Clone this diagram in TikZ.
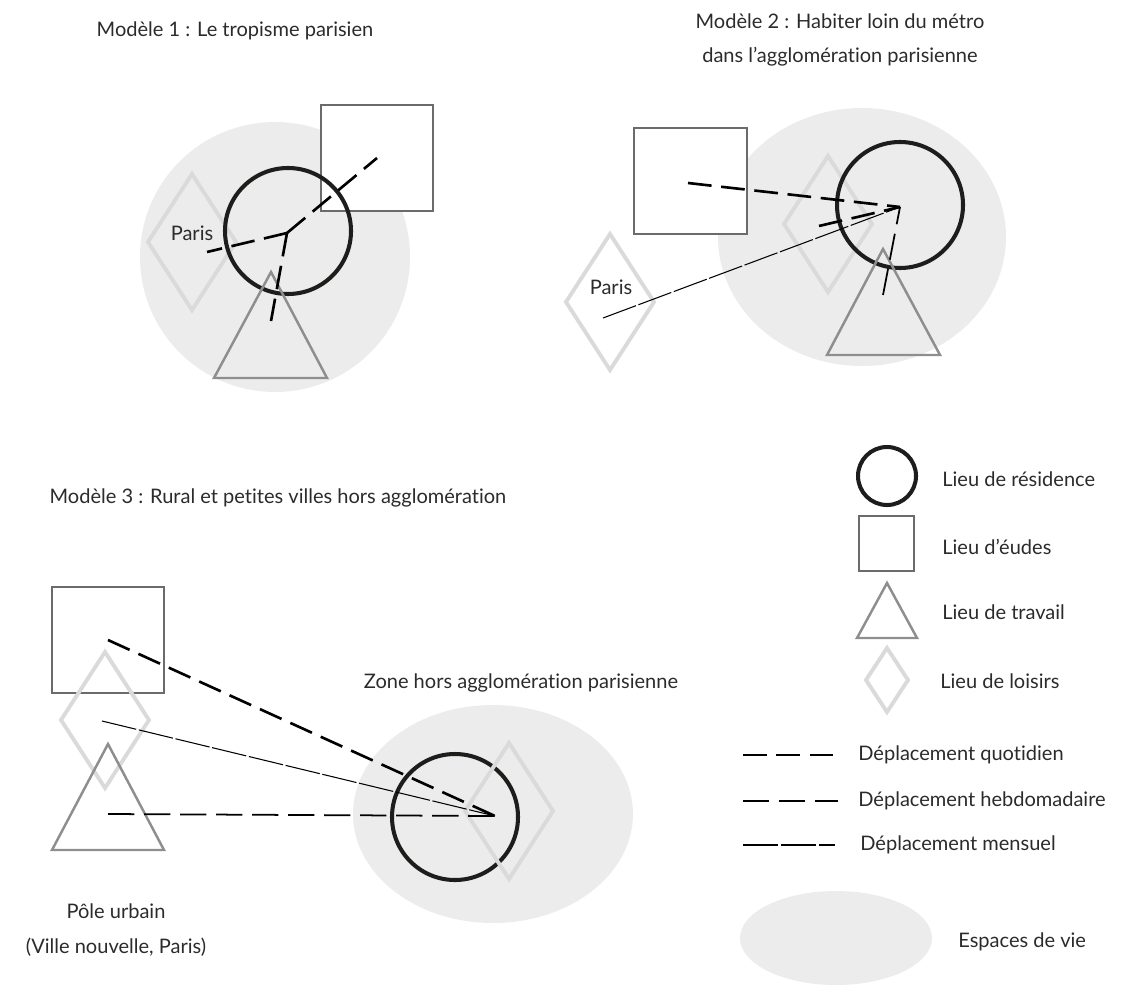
\documentclass[tikz,border=0pt]{standalone}
\usepackage{fontspec}
\setmainfont{Lato}[Ligatures=NoCommon]
\usepackage{tikz}
\definecolor{cEspace}{HTML}{ECECEC}
\definecolor{cNoir}{HTML}{1D1D1B}
\definecolor{cEtude}{HTML}{6B6B6B}
\definecolor{cTravail}{HTML}{8E8E8E}
\definecolor{cLoisir}{HTML}{D9DADB}
\definecolor{cTexte}{HTML}{2B2B2B}

\begin{document}
\begin{tikzpicture}[x=0.02cm,y=-0.02cm,
  espace/.style={fill=cEspace,draw=none},
  residence/.style={draw=cNoir,line width=2.3pt},
  etude/.style={draw=cEtude,line width=1.25pt,fill=white},
  travail/.style={draw=cTravail,line width=1.4pt},
  loisir/.style={draw=cLoisir,line width=2.2pt},
  quot/.style={line width=1.5pt,dash pattern=on 13.5pt off 5.5pt},
  hebdo/.style={line width=1pt,dash pattern=on 15pt off 5.5pt},
  mens/.style={line width=0.6pt,dash pattern=on 20pt off 1.5pt},
  txt/.style={font=\fontsize{11.4}{19.8}\selectfont,text=cTexte,inner sep=0pt}]
\useasboundingbox (0,0) rectangle (1131,986);

% Modele 1
\node[txt] (titreA) at (235,31) {Modèle 1 : Le tropisme parisien};
\fill[espace] (275,257) ellipse[x radius=135,y radius=135];
\draw[loisir] (192,174) -- ++(44,68) -- ++(-44,68) -- ++(-44,-68) -- cycle;
\draw[etude] (321,105) rectangle (433,211);
\draw[residence] (288,231) circle[radius=63];
\draw[travail] (271,272) -- (327,378) -- (214,378) -- cycle;
\node[txt] (parisA) at (192,233) {Paris};
\coordinate (hubA) at (287,233);
\coordinate (loisA) at (207,252);
\coordinate (etuA) at (377,158);
\coordinate (travA) at (271,321);
\draw[quot] (hubA) -- (loisA);
\draw[quot] (hubA) -- (etuA);
\draw[quot] (hubA) -- (travA);

% Modele 2
\node[txt,align=center] (titreB) at (840,40) {Modèle 2 : Habiter loin du métro\\dans l’agglomération parisienne};
\fill[espace] (862,237) ellipse[x radius=144,y radius=129];
\draw[etude] (634,128) rectangle (747,234);
\draw[loisir] (828,156) -- ++(44,68) -- ++(-44,68) -- ++(-44,-68) -- cycle;
\draw[loisir] (610,234) -- ++(44,68) -- ++(-44,68) -- ++(-44,-68) -- cycle;
\draw[residence] (900,205) circle[radius=63];
\draw[travail] (883,249) -- (940,355) -- (827,355) -- cycle;
\node[txt] (parisB) at (611,287) {Paris};
\coordinate (hubB) at (900,207);
\coordinate (etuB) at (688,183);
\coordinate (loisB) at (819,226);
\coordinate (parB) at (603,318);
\coordinate (travB) at (883,295);
\draw[quot] (etuB) -- (hubB);
\draw[quot] (loisB) -- (hubB);
\draw[mens] (parB) -- (hubB);
\draw[hebdo] (travB) -- (hubB);

% Modele 3
\node[txt] (titreC) at (278,498) {Modèle 3 : Rural et petites villes hors agglomération};
\node[txt] (zone) at (521,683) {Zone hors agglomération parisienne};
\fill[espace] (493,814) ellipse[x radius=140,y radius=109];
\draw[residence] (455,817) circle[radius=63];
\draw[loisir] (509,743) -- ++(44,68) -- ++(-44,68) -- ++(-44,-68) -- cycle;
\draw[etude] (52,587) rectangle (164,693);
\draw[loisir] (105,652) -- ++(44,68) -- ++(-44,68) -- ++(-44,-68) -- cycle;
\draw[travail] (108,744) -- (164,850) -- (52,850) -- cycle;
\node[txt,align=center] (pole) at (116,930) {Pôle urbain\\(Ville nouvelle, Paris)};
\coordinate (hubC) at (495,816);
\coordinate (etuC) at (108,640);
\coordinate (loisC) at (102,721);
\coordinate (travC) at (108,814);
\draw[quot] (etuC) -- (hubC);
\draw[mens] (loisC) -- (hubC);
\draw[hebdo] (travC) -- (hubC);

% Legende
\draw[residence] (887,476) circle[radius=29];
\node[txt,anchor=west] (lres) at (942,479) {Lieu de résidence};
\draw[etude] (859,516) rectangle (914,571);
\node[txt,anchor=west] (letu) at (942,547) {Lieu d’éudes};
\draw[travail] (887,583) -- (917,638) -- (857,638) -- cycle;
\node[txt,anchor=west] (ltra) at (942,612) {Lieu de travail};
\draw[loisir] (887,648) -- ++(21,32) -- ++(-21,32) -- ++(-21,-32) -- cycle;
\node[txt,anchor=west] (llois) at (940,681) {Lieu de loisirs};
\coordinate (q1) at (743,755); \coordinate (q2) at (837,755);
\coordinate (h1) at (743,801); \coordinate (h2) at (838,801);
\coordinate (m1) at (743,845); \coordinate (m2) at (835,845);
\draw[quot] (q1) -- (q2);
\draw[hebdo] (h1) -- (h2);
\draw[mens] (m1) -- (m2);
\node[txt,anchor=west] (lquot) at (858,755) {Déplacement quotidien};
\node[txt,anchor=west] (lhebdo) at (858,801) {Déplacement hebdomadaire};
\node[txt,anchor=west] (lmens) at (860,845) {Déplacement mensuel};
\fill[espace] (836,938) ellipse[x radius=96,y radius=47];
\node[txt,anchor=west] (lesp) at (958,942) {Espaces de vie};
\end{tikzpicture}
\end{document}
